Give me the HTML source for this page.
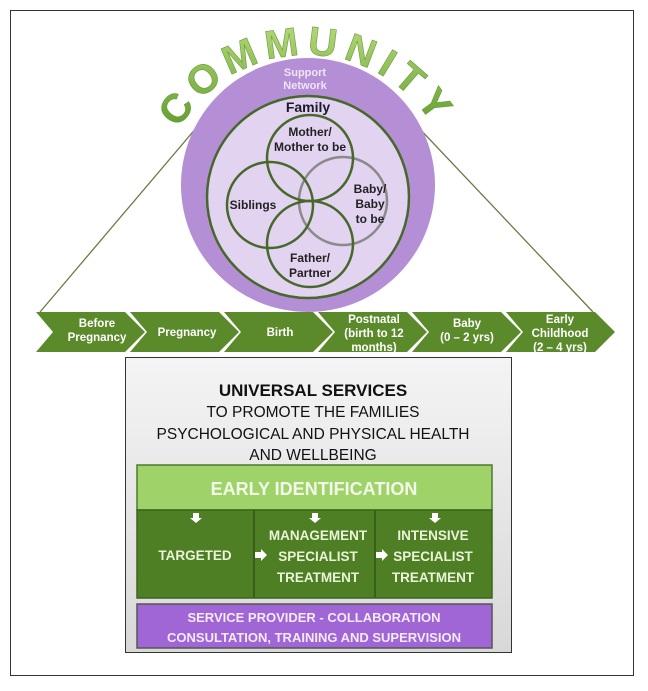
<!DOCTYPE html>
<html><head><style>
body{margin:0;background:#fff;width:648px;height:686px;overflow:hidden;font-family:"Liberation Sans",sans-serif}
</style></head><body>
<svg width="648" height="686" viewBox="0 0 648 686" xmlns="http://www.w3.org/2000/svg" font-family="Liberation Sans, sans-serif">
<defs>
<linearGradient id="cg" x1="0" y1="0" x2="0" y2="1">
<stop offset="0" stop-color="#b8dc7c"/><stop offset="1" stop-color="#5d9a2a"/></linearGradient>
<linearGradient id="gb" x1="0" y1="0" x2="0" y2="1">
<stop offset="0" stop-color="#f4f4f4"/><stop offset="1" stop-color="#d8d8d8"/></linearGradient>
<path id="arc" d="M 159 203 A 148 148 0 0 1 455 203"/>
</defs>
<rect x="10.5" y="10.5" width="623" height="665" fill="#fff" stroke="#333" stroke-width="1"/>
<line x1="40" y1="312" x2="197" y2="127" stroke="#6b7a45" stroke-width="1.3"/>
<line x1="593" y1="312" x2="418" y2="127" stroke="#6b7a45" stroke-width="1.3"/>
<circle cx="308" cy="185" r="127" fill="#b48fd6"/>
<circle cx="308" cy="197" r="101" fill="#e2d3f0" stroke="#46682a" stroke-width="2.5"/>
<g fill="none" stroke-width="2.5">
<circle cx="343" cy="201" r="44" stroke="#8a8a8a"/>
<circle cx="310" cy="158" r="43" stroke="#46682a"/>
<circle cx="270" cy="205" r="43" stroke="#46682a"/>
<circle cx="310" cy="244" r="43" stroke="#46682a"/>
</g>
<text font-family="Liberation Sans, sans-serif" font-weight="bold" font-size="40" fill="url(#cg)" stroke="#6a9a3a" stroke-width="0.6">
<textPath href="#arc" startOffset="50%" text-anchor="middle" letter-spacing="7">COMMUNITY</textPath></text>
<g font-weight="bold" text-anchor="middle">
<text x="305" y="76" font-size="11" fill="#efe6f8">Support</text>
<text x="305" y="89" font-size="11" fill="#efe6f8">Network</text>
<text x="308" y="112" font-size="14" fill="#1a1a2a">Family</text>
<g font-size="12" fill="#222">
<text x="310" y="136">Mother/</text>
<text x="310" y="151">Mother to be</text>
<text x="253" y="209">Siblings</text>
<text x="370" y="193">Baby/</text>
<text x="370" y="208">Baby</text>
<text x="370" y="223">to be</text>
<text x="310" y="262">Father/</text>
<text x="310" y="277">Partner</text>
</g></g>
<g fill="#5b8a2b">
<polygon points="36,312 125,312 145,332 125,352 36,352 53,332"/>
<polygon points="130,312 219,312 239,332 219,352 130,352 147,332"/>
<polygon points="224,312 313,312 333,332 313,352 224,352 241,332"/>
<polygon points="318,312 407,312 427,332 407,352 318,352 335,332"/>
<polygon points="412,312 501,312 521,332 501,352 412,352 429,332"/>
<polygon points="506,312 595,312 615,332 595,352 506,352 523,332"/>
</g>
<g fill="#fff" font-weight="bold" font-size="11.5" text-anchor="middle">
<text x="97" y="327">Before</text><text x="97" y="341">Pregnancy</text>
<text x="187" y="336">Pregnancy</text>
<text x="280" y="336">Birth</text>
<text x="374" y="323">Postnatal</text><text x="374" y="337">(birth to 12</text><text x="374" y="351">months)</text>
<text x="467" y="327">Baby</text><text x="467" y="341">(0 – 2 yrs)</text>
<text x="560" y="323">Early</text><text x="560" y="337">Childhood</text><text x="560" y="351">(2 – 4 yrs)</text>
</g>
<rect x="125.5" y="357.5" width="386" height="295" fill="url(#gb)" stroke="#333"/>
<g text-anchor="middle" fill="#111">
<text x="313" y="396" font-size="17" font-weight="bold">UNIVERSAL SERVICES</text>
<text x="313" y="417" font-size="15.5">TO PROMOTE THE FAMILIES</text>
<text x="313" y="439" font-size="15.5">PSYCHOLOGICAL AND PHYSICAL HEALTH</text>
<text x="313" y="460" font-size="15.5">AND WELLBEING</text>
</g>
<rect x="137" y="465" width="355" height="45" fill="#9fd36a" stroke="#4f7a2a" stroke-width="1.5"/>
<text x="314" y="495" text-anchor="middle" font-size="18" font-weight="bold" fill="#f3f9e8">EARLY IDENTIFICATION</text>
<rect x="137" y="510" width="355" height="88" fill="#4e7f25" stroke="#3d661c" stroke-width="1.5"/>
<line x1="254" y1="510" x2="254" y2="598" stroke="#3a5f1a" stroke-width="2"/>
<line x1="375" y1="510" x2="375" y2="598" stroke="#3a5f1a" stroke-width="2"/>
<g fill="#fff">
<polygon points="193,513 199,513 199,518 202,518 196,523 190,518 193,518"/>
<polygon points="312,513 318,513 318,518 321,518 315,523 309,518 312,518"/>
<polygon points="432,513 438,513 438,518 441,518 435,523 429,518 432,518"/>
<polygon points="255,552 261,552 261,549 267,555 261,561 261,558 255,558"/>
<polygon points="376,552 382,552 382,549 388,555 382,561 382,558 376,558"/>
</g>
<g fill="#eaf3d8" font-weight="bold" font-size="13.5" text-anchor="middle">
<text x="195" y="560">TARGETED</text>
<text x="318" y="540">MANAGEMENT</text><text x="318" y="561">SPECIALIST</text><text x="318" y="582">TREATMENT</text>
<text x="433" y="540">INTENSIVE</text><text x="433" y="561">SPECIALIST</text><text x="433" y="582">TREATMENT</text>
</g>
<rect x="137" y="604" width="355" height="44" fill="#a066d6" stroke="#555" stroke-width="1.5"/>
<g fill="#f3eafa" font-weight="bold" font-size="13" text-anchor="middle">
<text x="314" y="622">SERVICE PROVIDER - COLLABORATION</text>
<text x="314" y="642">CONSULTATION, TRAINING AND SUPERVISION</text>
</g>
</svg>
</body></html>
